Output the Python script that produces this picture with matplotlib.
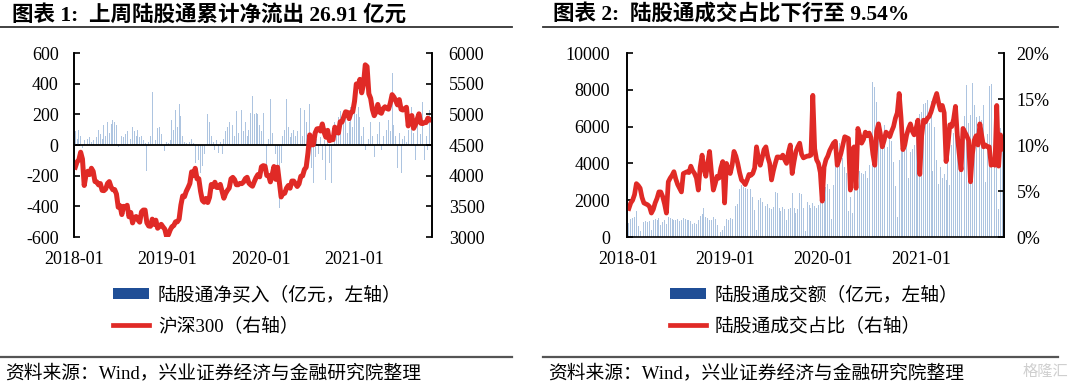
import numpy as np
import pandas as pd
import matplotlib
matplotlib.use('Agg')
import matplotlib.pyplot as plt
import matplotlib.dates as mdates
from matplotlib.patches import Patch
from matplotlib.lines import Line2D
from matplotlib.ticker import FuncFormatter, MultipleLocator

plt.rcParams['font.family'] = ['Liberation Serif', 'Noto Sans CJK SC']
plt.rcParams['axes.unicode_minus'] = False

# weekly data, first Friday of 2018 onwards
start = '2018-01-05'

# 沪深300 weekly close (right axis, chart 1)
hs300 = [
    4138, 4225, 4258, 4382, 4271, 3840, 4014, 4072, 4018, 4121, 4070, 3904, 3898,
    3850, 3871, 3760, 3756, 3783, 3873, 3903, 3815, 3770, 3773, 3700, 3485, 3510,
    3366, 3500, 3492, 3517, 3330, 3400, 3230, 3318, 3334, 3278, 3242, 3410, 3439,
    3439, 3231, 3180, 3175, 3291, 3206, 3274, 3143, 3172, 3207, 3165, 3128, 3011,
    3035, 3113, 3168, 3185, 3247, 3247, 3292, 3520, 3669, 3657, 3745, 3805, 3872,
    4062, 4000, 4120, 3950, 3950, 3744, 3596, 3568, 3629, 3562, 3647, 3856, 3826,
    3893, 3808, 3807, 3858, 3747, 3633, 3710, 3760, 3799, 3948, 3972, 3935, 3852,
    3852, 3874, 3870, 3896, 3952, 3973, 3878, 3849, 3828, 3902, 3968, 4017, 3981,
    4144, 4163, 4155, 4003, 4003, 3899, 4016, 4149, 3940, 4138, 3895, 3653, 3710,
    3713, 3796, 3839, 3796, 3912, 3912, 3868, 3824, 3867, 3990, 3996, 4099, 4138,
    4371, 4665, 4502, 4505, 4695, 4762, 4768, 4728, 4843, 4708, 4627, 4739, 4570,
    4587, 4587, 4791, 4713, 4695, 4880, 4875, 4960, 5041, 5033, 4930, 5031, 5042,
    5211, 5495, 5458, 5570, 5351, 5484, 5807, 5779, 5336, 5262, 5079, 4978, 5038,
    5161, 5035, 5017, 5094, 5123, 5097, 5084, 5183, 5321, 5282, 5225, 5154, 5240,
    5082, 5070, 5093, 5115, 4811, 4961, 4980, 4772, 4829, 4918, 5008, 4855, 4849,
    4866, 4866, 4938, 4906, 4908,
]

# 陆股通净买入, 亿元 (left axis, chart 1)
net_buy = [
    90, 40, 100, 60, -20, 30, 10, 40, 50, 20, 30, -10, 50, 100, 70, 40, 130, 60,
    150, 80, 140, 160, 150, 130, -10, -20, 60, 50, 70, 90, 70, 40, 120, 90, 60, 100,
    50, 60, 30, 10, -170, 20, 60, 345, 50, 30, 110, 120, 70, 40, -40, 20,
    10, 30, 160, 100, 230, 120, 265, 190, 60, 20, 10, 30, 20, 40, 10, -120, -160,
    -100, -180, -140, -60, 100, 200, 150, 60, 20, -30, 30, -50, 20, -60, 40, 90,
    120, 150, 280, 130, 60, 220, 80, 120, 230, 90, 150, 60, 100, 210, 320, 200, 210,
    200, 130,
    90, 210, 50, -200, 40, 300, 80, 100, -60, -200, -410, -120, 60, 100, 300, 120,
    50, 80, 100, 60, 90, 120, 240, 60, 230, 150, 280, 270, -150, -250, -80, 40, -60,
    50, -100, 30, -230, 60, -120, -250, -60, 150, 120, 180, 220, 90, 160, 200, 80,
    150, 250, 120,
    280, 200, 250, 180, 60, 120, -30, -60, 40, 150, 60, -80, 120, 70, 150, -30, 60,
    40, 100, 160, 90, 470, 130, 60, -150, 80, -180, 40, 60, 20, 100, -100, 250, 80,
    -100, 130, -20, 70, 280, -100, 60, -30, 230, -27,
]

# 陆股通成交额, 亿元 (left axis, chart 2)
turnover = [
    750, 1000, 1050, 1100, 1400, 600, 350, 850, 800, 850, 800, 850, 400, 900, 1000,
    950, 1050, 650, 800, 950, 700, 1100, 1050, 1000, 950, 900, 1000, 850, 950, 1050,
    1000, 900, 950, 850, 700, 750, 700, 950, 1150, 1250, 1550, 1100, 1050, 950, 900,
    1100, 1000, 650, 500, 250, 400, 600,
    1000, 950, 1050, 1000, 1500, 1700, 1800, 2600, 2800, 2700, 2650, 2600, 2550,
    2600, 2200, 1450, 400, 2000, 2100, 1900, 1500, 1700, 1800, 1600, 1500, 1650,
    2450, 2400, 1600, 1400, 1650, 1500, 900, 1500, 1550, 2400, 1600, 1300, 1500,
    2400, 2350, 1600, 300, 1900, 1750, 1600, 1850, 1700, 1550, 1750, 2800, 2000,
    2100, 2700, 2900, 2600, 1000, 2800, 4200, 5200, 5100, 4600, 4300, 3800, 3500,
    1400, 2200, 1300, 3650, 3500, 3700, 3600, 3500, 3400, 3600, 3200, 3900, 3700,
    8450, 8170, 7360, 6200, 5800, 5400, 6100, 5000, 4900, 5500, 5200, 4100, 2750,
    1100, 4200, 5300, 5000, 4700, 5100, 3200, 4600, 4800, 5000, 6200, 6400, 6700,
    6800, 7250, 7300, 7450, 6200, 7400, 3600, 6000, 4200, 2900, 3800, 3200, 3400,
    3100, 4500, 2800, 5000, 5650, 5900, 6200, 5500, 6000, 6400, 6600, 8250, 6200,
    6650, 8350, 7200, 6500, 7100, 6600, 6350, 7200, 3000, 5600, 8200, 8300, 7200,
    7100, 6000, 1500, 5900, 5200,
]

# 陆股通成交占比, % (right axis, chart 2)
share = [
    3.1, 3.7, 4.0, 4.6, 5.8, 5.6, 5.3, 4.3, 3.7, 3.6, 3.5, 3.3, 2.6, 3.0, 3.7, 4.2,
    4.9, 4.9, 4.4, 3.6, 2.6, 6.0, 6.4, 6.7, 7.1, 6.3, 5.7, 5.3, 4.9, 6.9, 7.0, 7.1,
    7.0, 7.7, 7.2, 6.9, 6.4, 5.1, 7.6, 8.9, 7.4, 6.6, 8.0, 9.3, 7.0, 5.1, 5.8, 6.6,
    6.4, 7.5, 8.2, 3.7,
    8.0, 7.4, 6.9, 7.8, 9.3, 8.8, 8.0, 7.0, 6.2, 6.0, 5.7, 6.2, 6.8, 6.7, 6.9, 7.5,
    9.8, 8.6, 7.8, 8.6, 9.5, 9.8, 8.7, 8.0, 6.2, 7.2, 8.0, 8.7, 8.7, 8.6, 8.9, 8.4,
    8.0, 9.2, 10.0, 6.9, 8.2, 9.3, 9.8, 10.2, 9.0, 8.6, 8.7, 8.8, 8.8, 8.9, 15.4,
    9.6, 8.4, 8.0, 7.0, 3.9,
    7.6, 8.4, 8.8, 9.4, 9.8, 10.2, 10.4, 7.8, 8.4, 9.1, 10.0, 10.9, 10.8, 10.7, 5.1,
    9.5, 9.8, 5.3, 11.8, 11.0, 10.2, 10.6, 11.4, 11.0, 11.3, 10.8, 9.0, 7.8, 11.5,
    12.3, 11.2, 9.8, 10.5, 11.4, 11.2, 10.9, 11.5, 12.0, 12.9, 13.5, 15.6, 13.0,
    9.5, 10.0, 11.1, 11.8, 12.3, 11.5, 11.1, 11.8, 12.7, 6.8,
    11.0, 12.7, 12.5, 12.9, 13.1, 13.6, 14.3, 15.0, 15.6, 14.6, 13.8, 14.3, 13.5,
    8.2, 10.0, 12.2, 12.0, 12.8, 14.2, 11.0, 9.0, 7.3, 11.8, 11.4, 11.0, 10.5, 6.0,
    9.0, 10.5, 11.0, 10.0, 12.3, 11.0, 9.8, 10.0, 9.8, 9.8, 7.8, 8.0, 7.8, 14.3,
    7.7, 11.1, 9.54,
]

weeks = pd.date_range(start, periods=len(hs300), freq='W-FRI')

title1 = '图表 1:  上周陆股通累计净流出 26.91 亿元'
title2 = '图表 2:  陆股通成交占比下行至 9.54%'
legend1 = ['陆股通净买入（亿元，左轴）', '沪深300（右轴）']
legend2 = ['陆股通成交额（亿元，左轴）', '陆股通成交占比（右轴）']
source = '资料来源：Wind，兴业证券经济与金融研究院整理'

BAR = '#adc4e0'
DARK_BLUE = '#1f4e96'
RED = '#e02a26'
W, H = 1080, 385

fig = plt.figure(figsize=(W / 100, H / 100), dpi=100)


def fx(px):
    return px / W


def fy(py):
    return 1 - py / H


def style_axes(ax, ax2, lpad, rpad):
    for a in (ax, ax2):
        a.spines['top'].set_visible(False)
        for s in ('left', 'right', 'bottom'):
            a.spines[s].set_linewidth(1.2)
            a.spines[s].set_color('black')
        a.tick_params(axis='y', direction='in', length=4.5, width=1.2,
                      labelsize=13, colors='black')
    ax.tick_params(axis='y', pad=lpad)
    ax2.tick_params(axis='y', pad=rpad)
    ax.xaxis.set_major_locator(mdates.YearLocator())
    ax.xaxis.set_major_formatter(mdates.DateFormatter('%Y-%m'))
    ax.tick_params(axis='x', length=0, labelsize=13, pad=10)
    ax.patch.set_alpha(0)


# ---- chart 1 ----
ax1 = fig.add_axes([fx(74), fy(237), fx(432 - 74), (237 - 53) / H])
ax1b = ax1.twinx()
ax1.bar(weeks, net_buy, width=3.5, color=BAR, linewidth=0, zorder=2)
ax1.axhline(0, color='black', lw=1.3, zorder=3)
ax1b.plot(weeks, hs300, color=RED, lw=3.6, solid_joinstyle='round')
ax1.set_ylim(-600, 600)
ax1.yaxis.set_major_locator(MultipleLocator(200))
ax1b.set_ylim(3000, 6000)
ax1b.yaxis.set_major_locator(MultipleLocator(500))
ax1.set_xlim(pd.Timestamp('2017-12-31'), pd.Timestamp('2021-10-31'))
ax1.spines['bottom'].set_visible(False)
ax1b.spines['bottom'].set_visible(False)
style_axes(ax1, ax1b, 11, 12)

# ---- chart 2 ----
ax2 = fig.add_axes([fx(627), fy(237), fx(1004 - 627), (237 - 53) / H])
ax2b = ax2.twinx()
ax2.bar(weeks, turnover, width=3.5, color=BAR, linewidth=0)
ax2b.plot(weeks, share, color=RED, lw=3.4, solid_joinstyle='round')
ax2.set_ylim(0, 10000)
ax2.yaxis.set_major_locator(MultipleLocator(2000))
ax2b.set_ylim(0, 20)
ax2b.yaxis.set_major_locator(MultipleLocator(5))
ax2b.yaxis.set_major_formatter(FuncFormatter(lambda v, p: f'{v:.0f}%'))
ax2.set_xlim(pd.Timestamp('2017-12-29'), pd.Timestamp('2021-11-04'))
style_axes(ax2, ax2b, 12, 9)
ax2b.spines['bottom'].set_visible(False)

# ---- titles, rules, legends, source ----
fig.text(fx(12), fy(15), title1, fontsize=15.5, fontweight='bold', va='center')
fig.text(fx(553), fy(15), title2, fontsize=15.5, fontweight='bold', va='center')

for x0, x1 in ((0, 512), (543, 1058)):
    fig.add_artist(Line2D([fx(x0), fx(x1)], [fy(27), fy(27)], color='#333333', lw=1.3))
    fig.add_artist(Line2D([fx(x0), fx(x1)], [fy(357), fy(357)], color='#555555', lw=1.6))

for x0, labels in ((113, legend1), (670, legend2)):
    handles = [Patch(facecolor=DARK_BLUE, edgecolor='none'),
               Line2D([], [], color=RED, lw=3.4)]
    fig.legend(handles, labels, loc='upper left', bbox_to_anchor=(fx(x0), fy(286)),
               frameon=False, fontsize=13.5, handlelength=1.9, handleheight=0.5,
               handletextpad=0.5, labelspacing=0.7, borderpad=0, borderaxespad=0)

fig.text(fx(5), fy(373), source, fontsize=13.5, va='center')
fig.text(fx(548), fy(373), source, fontsize=13.5, va='center')
fig.text(fx(1045), fy(372), '格隆汇', fontsize=11, color='#cfcfcf', va='center', ha='center')

fig.savefig('out.png', dpi=100)
